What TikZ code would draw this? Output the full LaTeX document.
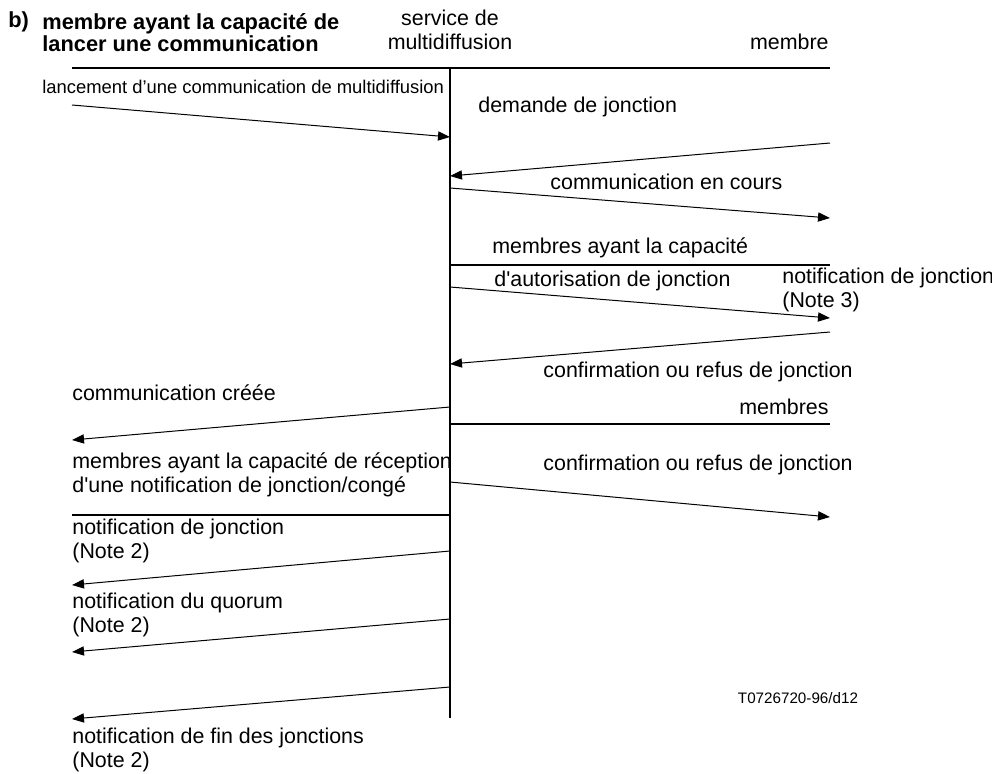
\documentclass[tikz,border=0pt]{standalone}
\usepackage{fontspec}
\setmainfont{Liberation Sans}
\usetikzlibrary{arrows.meta}
\begin{document}
\begin{tikzpicture}[x=0.5pt,y=-0.5pt,
txt/.style={
% plain text, no frame:
inner sep=0pt,
anchor=west,
align=left,
font=\fontsize{10.7}{12}\selectfont
},
small/.style={
inner sep=0pt,
font=\fontsize{9.2}{11}\selectfont
},
bar/.style={
draw=black,
line width=1pt
},
msg/.style={
draw=black,
line width=0.5pt,
-{Triangle[length=6pt,width=4.6pt]}
}
]
\useasboundingbox (0,0) rectangle (992,773);
% Headings:
\node (b) [txt,font=\fontsize{10.9}{11}\selectfont\bfseries] at (8,22) {b)};
\node (title) [txt,font=\fontsize{10.9}{11}\selectfont\bfseries] at (42,33) {membre ayant la capacit\'e de\\lancer une communication};
\node (service) [txt,anchor=center,align=center] at (450,30) {service de\\multidiffusion};
\node (membre) [txt,anchor=east] at (829,42) {membre};
% Lines:
\draw[bar] (72,68) -- (830,68);
\draw[bar] (450,68) -- (450,718);
\draw[bar] (450,265) -- (830,265);
\draw[bar] (450,424) -- (830,424);
\draw[bar] (72,515) -- (450,515);
% Message ends:
\coordinate (lanc s) at (72,105); \coordinate (lanc e) at (450,137);
\coordinate (dem s) at (830,143); \coordinate (dem e) at (450,176);
\coordinate (cours s) at (450,188); \coordinate (cours e) at (830,218);
\coordinate (notif s) at (450,287); \coordinate (notif e) at (830,318);
\coordinate (conf s) at (830,332); \coordinate (conf e) at (450,364);
\coordinate (cree s) at (450,407); \coordinate (cree e) at (72,440);
\coordinate (conf2 s) at (450,482); \coordinate (conf2 e) at (830,517);
\coordinate (jonc s) at (450,551); \coordinate (jonc e) at (72,585);
\coordinate (quor s) at (450,619); \coordinate (quor e) at (72,652);
\coordinate (fin s) at (450,687); \coordinate (fin e) at (72,719);
\path (lanc s) edge[msg] (lanc e) (dem s) edge[msg] (dem e) (cours s) edge[msg] (cours e) (notif s) edge[msg] (notif e) (conf s) edge[msg] (conf e);
\path (cree s) edge[msg] (cree e) (conf2 s) edge[msg] (conf2 e) (jonc s) edge[msg] (jonc e) (quor s) edge[msg] (quor e) (fin s) edge[msg] (fin e);
% Labels:
\node (lanc) [small,anchor=west] at (42,87) {lancement d'une communication de multidiffusion};
\node (dem) [txt] at (478,107) {demande de jonction};
\node (cours) [txt] at (550,182) {communication en cours};
\node (capa) [txt] at (492,248) {membres ayant la capacit\'e};
\node (autor) [txt] at (494,281) {d\textquotesingle autorisation de jonction};
\node (notif) [txt] at (782,290) {notification de jonction\\(Note 3)};
\node (conf) [txt] at (543,372) {confirmation ou refus de jonction};
\node (cree) [txt] at (72,393) {communication cr\'e\'ee};
\node (membres) [txt,anchor=east] at (829,407) {membres};
\node (recep) [txt] at (72,475) {membres ayant la capacit\'e de r\'eception\\d\textquotesingle une notification de jonction/cong\'e};
\node (conf2) [txt] at (543,465) {confirmation ou refus de jonction};
\node (jonc) [txt] at (72,541) {notification de jonction\\(Note 2)};
\node (quor) [txt] at (72,615) {notification du quorum\\(Note 2)};
\node (fin) [txt] at (72,750) {notification de fin des jonctions\\(Note 2)};
\node (ref) [small,font=\fontsize{7.6}{9}\selectfont] at (798,698) {T0726720-96/d12};
\end{tikzpicture}
\end{document}
